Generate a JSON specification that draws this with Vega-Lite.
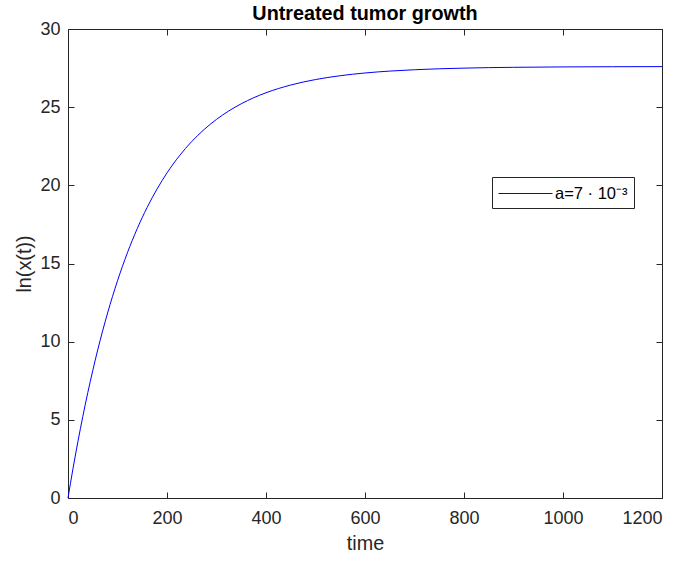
{
  "$schema": "https://vega.github.io/schema/vega-lite/v6.json",
  "width": 594,
  "height": 469,
  "autosize": {"type": "none"},
  "padding": {"left": 68, "top": 29, "right": 21, "bottom": 63},
  "background": "white",
  "config": {
    "font": "Liberation Sans",
    "view": {"stroke": null},
    "axis": {"grid": false, "domainColor": "#262626", "tickColor": "#262626", "labelColor": "#262626", "titleColor": "#262626", "labelFontSize": 18, "titleFontSize": 19.8, "titleFontWeight": "normal", "tickSize": -6, "domainWidth": 1, "tickWidth": 1, "format": "d"}
  },
  "title": {"text": "Untreated tumor growth", "fontSize": 19.8, "fontWeight": "bold", "color": "#000000", "offset": 4, "dy": 8, "anchor": "middle"},
  "data": {"values": [
    {"t": 0, "y": 0}, {"t": 10, "y": 1.866}, {"t": 20, "y": 3.605}, {"t": 30, "y": 5.227},
    {"t": 40, "y": 6.740}, {"t": 50, "y": 8.150}, {"t": 60, "y": 9.467}, {"t": 70, "y": 10.692},
    {"t": 80, "y": 11.835}, {"t": 90, "y": 12.900}, {"t": 100, "y": 13.894}, {"t": 120, "y": 15.685},
    {"t": 140, "y": 17.242}, {"t": 160, "y": 18.594}, {"t": 180, "y": 19.770}, {"t": 200, "y": 20.794},
    {"t": 225, "y": 21.887}, {"t": 250, "y": 22.803}, {"t": 275, "y": 23.573}, {"t": 300, "y": 24.219},
    {"t": 325, "y": 24.763}, {"t": 350, "y": 25.218}, {"t": 375, "y": 25.601}, {"t": 400, "y": 25.922},
    {"t": 450, "y": 26.416}, {"t": 500, "y": 26.766}, {"t": 550, "y": 27.012}, {"t": 600, "y": 27.186},
    {"t": 650, "y": 27.308}, {"t": 700, "y": 27.394}, {"t": 800, "y": 27.498}, {"t": 900, "y": 27.549},
    {"t": 1000, "y": 27.575}, {"t": 1100, "y": 27.587}, {"t": 1200, "y": 27.594}
  ]},
  "layer": [
    {
      "mark": {"type": "line", "strokeWidth": 1, "interpolate": "monotone"},
      "encoding": {
        "x": {"field": "t", "type": "quantitative", "scale": {"domain": [0, 1200], "nice": false}, "axis": {"title": "time", "values": [0, 200, 400, 600, 800, 1000, 1200], "labelPadding": 17, "titlePadding": 6}},
        "y": {"field": "y", "type": "quantitative", "scale": {"domain": [0, 30], "nice": false}, "axis": {"title": "ln(x(t))", "values": [0, 5, 10, 15, 20, 25, 30], "labelPadding": 14, "titlePadding": 5}},
        "color": {"datum": "a=7 · 10⁻³", "type": "nominal", "scale": {"range": ["#0000FF"]}, "legend": {"title": null, "orient": "none", "legendX": 424, "legendY": 148, "symbolType": "M-1,0H4.4", "symbolSize": 400, "symbolStrokeWidth": 1, "labelFontSize": 16.5, "labelColor": "#000000", "strokeColor": "#262626", "fillColor": "white", "padding": 6, "labelOffset": 36}}
      }
    },
    {
      "mark": {"type": "line", "opacity": 0},
      "encoding": {
        "x": {"field": "t", "type": "quantitative", "axis": {"orient": "top", "title": null, "labels": false, "values": [0, 200, 400, 600, 800, 1000, 1200]}},
        "y": {"field": "y", "type": "quantitative", "axis": {"orient": "right", "title": null, "labels": false, "values": [0, 5, 10, 15, 20, 25, 30]}}
      }
    }
  ],
  "resolve": {"axis": {"x": "independent", "y": "independent"}}
}
